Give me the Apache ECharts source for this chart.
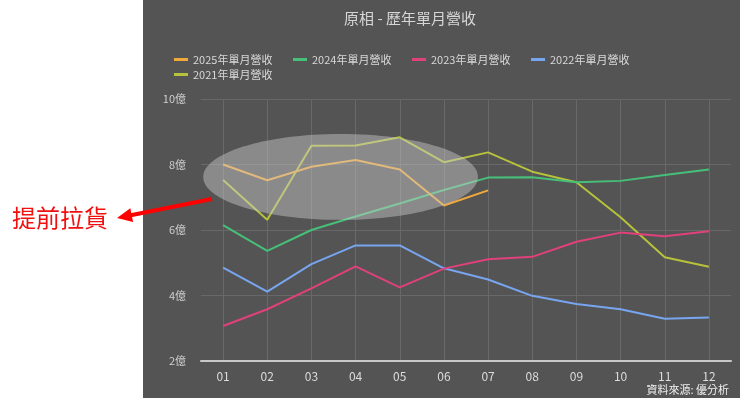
<!DOCTYPE html>
<html>
<head>
<meta charset="utf-8">
<script src="https://cdn.jsdelivr.net/npm/echarts@6/dist/echarts.min.js"></script>
<style>
  html, body { margin: 0; padding: 0; background: #fff; }
  #chart { width: 740px; height: 398px; }
</style>
</head>
<body>
<div id="chart"></div>
<script>
// 月份
const months = ['01', '02', '03', '04', '05', '06', '07', '08', '09', '10', '11', '12'];

// 各年度單月營收（億）
const rev2025 = [8.0, 7.52, 7.93, 8.14, 7.85, 6.75, 7.21];
const rev2024 = [6.15, 5.36, 6.0, 6.41, 6.81, 7.22, 7.6, 7.61, 7.46, 7.5, 7.68, 7.85];
const rev2023 = [3.07, 3.58, 4.22, 4.89, 4.25, 4.82, 5.11, 5.18, 5.64, 5.92, 5.81, 5.96];
const rev2022 = [4.85, 4.12, 4.96, 5.53, 5.53, 4.83, 4.49, 3.99, 3.74, 3.58, 3.29, 3.33];
const rev2021 = [7.53, 6.31, 8.57, 8.58, 8.83, 8.07, 8.37, 7.78, 7.46, 6.39, 5.17, 4.88];

const seriesNames = ['2025年單月營收', '2024年單月營收', '2023年單月營收', '2022年單月營收', '2021年單月營收'];
const seriesData = [rev2025, rev2024, rev2023, rev2022, rev2021];
const colors = ['#f2a93b', '#46c079', '#e0417a', '#78a5ef', '#b6c23c'];

const FONT = '"Noto Sans CJK TC", "Noto Sans", sans-serif';
const PANEL_X = 143;

const chart = echarts.init(document.getElementById('chart'));

const options = {
  backgroundColor: '#ffffff',
  textStyle: { fontFamily: FONT },
  color: colors,
  title: {
    text: '原相 - 歷年單月營收',
    left: 405,
    textAlign: 'center',
    top: 6,
    textStyle: { color: '#d6d6d6', fontSize: 15, fontWeight: 'normal', fontFamily: FONT }
  },
  legend: {
    left: 174,
    top: 52,
    width: 480,
    padding: 0,
    itemGap: 0,
    icon: 'rect',
    itemWidth: 14,
    itemHeight: 3,
    itemStyle: { borderWidth: 0 },
    textStyle: {
      color: '#d8d8d8',
      fontSize: 11,
      fontFamily: FONT,
      width: 100,
      lineHeight: 15
    },
    data: seriesNames
  },
  grid: { left: 201, right: 9, top: 99, bottom: 37, containLabel: false },
  xAxis: {
    type: 'category',
    data: months,
    boundaryGap: true,
    axisLine: { lineStyle: { color: '#c8c8c8', width: 2 } },
    axisTick: { show: false },
    axisLabel: { color: '#dcdcdc', fontSize: 12, margin: 9, fontFamily: FONT },
    splitLine: { show: true, alignWithLabel: true, lineStyle: { color: '#686868', width: 1 } }
  },
  yAxis: {
    type: 'value',
    min: 2,
    max: 10,
    interval: 2,
    axisLine: { show: false },
    axisTick: { show: false },
    axisLabel: { color: '#cfcfcf', fontSize: 11, margin: 15, formatter: '{value}億', fontFamily: FONT },
    splitLine: { lineStyle: { color: '#686868', width: 1 } }
  },
  series: seriesNames.map((name, i) => ({
    name,
    type: 'line',
    data: seriesData[i],
    showSymbol: false,
    symbol: 'none',
    lineStyle: { width: 2 },
    emphasis: { disabled: true },
    z: 10 - i
  }))
};

chart.setOption(options);

// 註解：背景區塊、橢圓、箭頭、文字
const p0 = chart.convertToPixel({ gridIndex: 0 }, [0, 2]);
const p1 = chart.convertToPixel({ gridIndex: 0 }, [1, 4]);
const dxIdx = p1[0] - p0[0];        // 每一個月份的像素寬
const dyVal = (p0[1] - p1[1]) / 2;  // 每 1 億的像素高
const toPx = (idx, val) => [p0[0] + idx * dxIdx, p0[1] - (val - 2) * dyVal];

const ellCenter = toPx(2.66, 7.62);
const ellRx = 3.11 * dxIdx;
const ellRy = 1.31 * dyVal;

// 箭頭
const tail = [212, 199];
const tip = [117, 218];
const ux = tail[0] - tip[0], uy = tail[1] - tip[1];
const len = Math.hypot(ux, uy);
const u = [ux / len, uy / len];
const n = [-u[1], u[0]];
const headLen = 15, headHalf = 7;
const base = [tip[0] + u[0] * headLen, tip[1] + u[1] * headLen];

chart.setOption({
  graphic: [
    {
      type: 'rect',
      z: -10,
      silent: true,
      shape: { x: PANEL_X, y: 0, width: 740 - PANEL_X, height: 398 },
      style: { fill: '#545454' }
    },
    {
      type: 'ellipse',
      z: 100,
      silent: true,
      shape: { cx: ellCenter[0], cy: ellCenter[1], rx: ellRx, ry: ellRy },
      style: { fill: 'rgba(205,205,205,0.45)' }
    },
    {
      type: 'line',
      z: 100,
      silent: true,
      shape: { x1: tail[0], y1: tail[1], x2: base[0] - u[0] * 1, y2: base[1] - u[1] * 1 },
      style: { stroke: '#f00', lineWidth: 4 }
    },
    {
      type: 'polygon',
      z: 100,
      silent: true,
      shape: {
        points: [
          tip,
          [base[0] + n[0] * headHalf, base[1] + n[1] * headHalf],
          [base[0] - n[0] * headHalf, base[1] - n[1] * headHalf]
        ]
      },
      style: { fill: '#f00' }
    },
    {
      type: 'text',
      z: 100,
      silent: true,
      left: 12,
      top: 206,
      style: { text: '提前拉貨', fill: '#f01010', font: '24px ' + FONT }
    },
    {
      type: 'text',
      z: 100,
      silent: true,
      right: 11,
      top: 384,
      style: { text: '資料來源: 優分析', fill: '#efefef', font: '11px ' + FONT }
    }
  ]
});

window.addEventListener('resize', () => chart.resize());
</script>
</body>
</html>
